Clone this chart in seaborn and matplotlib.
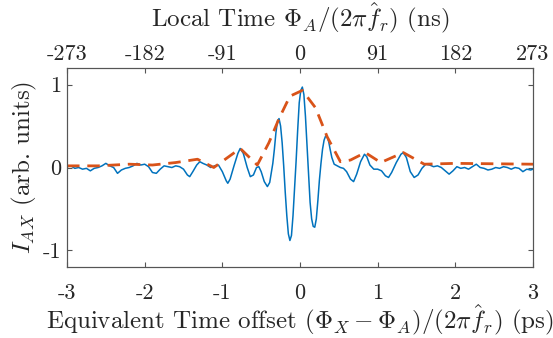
import numpy as np
import pandas as pd
import matplotlib
matplotlib.use("Agg")
import matplotlib.pyplot as plt
import seaborn as sns

offset_ps = [-3.00, -2.95, -2.90, -2.85, -2.80, -2.75, -2.70, -2.65, -2.60, -2.55,
             -2.50, -2.45, -2.40, -2.35, -2.30, -2.25, -2.20, -2.15, -2.10, -2.05,
             -2.00, -1.95, -1.90, -1.85, -1.80, -1.75, -1.70, -1.65, -1.60, -1.55,
             -1.50, -1.45, -1.42, -1.38, -1.33, -1.29, -1.25, -1.20, -1.15, -1.10,
             -1.05, -1.00, -0.95, -0.93, -0.90, -0.85, -0.80, -0.77, -0.73, -0.68,
             -0.64, -0.60, -0.56, -0.53, -0.50, -0.46, -0.42, -0.39, -0.35, -0.33,
             -0.31, -0.29, -0.27, -0.25, -0.23, -0.21, -0.19, -0.17, -0.15, -0.13,
             -0.11, -0.09, -0.07, -0.05, -0.03, -0.01, 0.01, 0.03, 0.05, 0.07,
             0.09, 0.11, 0.13, 0.15, 0.17, 0.19, 0.21, 0.23, 0.25, 0.27,
             0.29, 0.31, 0.33, 0.35, 0.37, 0.39, 0.41, 0.44, 0.48, 0.52,
             0.56, 0.60, 0.65, 0.69, 0.73, 0.78, 0.83, 0.86, 0.90, 0.95,
             1.00, 1.05, 1.10, 1.14, 1.18, 1.24, 1.30, 1.33, 1.37, 1.42,
             1.47, 1.52, 1.57, 1.62, 1.67, 1.72, 1.77, 1.82, 1.87, 1.92,
             1.97, 2.02, 2.07, 2.12, 2.17, 2.22, 2.27, 2.32, 2.37, 2.42,
             2.47, 2.52, 2.57, 2.62, 2.67, 2.72, 2.77, 2.82, 2.87, 2.92,
             2.97, 3.00]
signal = [0.01, 0.02, -0.01, 0.00, -0.02, -0.01, -0.04, -0.01, 0.00, 0.02,
          0.05, 0.02, 0.00, -0.07, -0.03, -0.01, 0.00, 0.02, 0.05, 0.03,
          0.04, 0.01, -0.06, -0.07, -0.02, 0.02, 0.01, 0.00, 0.02, 0.01,
          -0.02, -0.09, -0.11, -0.05, 0.03, 0.07, 0.05, 0.03, 0.00, 0.02,
          0.03, -0.05, -0.16, -0.19, -0.14, 0.02, 0.17, 0.23, 0.17, 0.00,
          -0.11, -0.09, 0.00, 0.01, -0.05, -0.17, -0.23, -0.18, 0.05, 0.22,
          0.42, 0.56, 0.59, 0.50, 0.30, 0.02, -0.30, -0.58, -0.80, -0.88,
          -0.82, -0.58, -0.25, 0.08, 0.45, 0.78, 0.93, 0.97, 0.88, 0.62,
          0.28, -0.08, -0.42, -0.62, -0.71, -0.72, -0.62, -0.40, -0.15, 0.05,
          0.22, 0.33, 0.38, 0.37, 0.31, 0.21, 0.12, 0.04, 0.02, 0.00,
          -0.01, -0.05, -0.14, -0.17, -0.08, 0.07, 0.16, 0.13, 0.03, -0.02,
          -0.02, -0.04, -0.10, -0.12, -0.06, 0.06, 0.16, 0.18, 0.12, -0.05,
          -0.12, -0.09, -0.01, 0.04, 0.03, 0.01, 0.02, 0.00, -0.04, -0.08,
          -0.04, 0.01, -0.01, 0.00, -0.02, 0.01, 0.04, 0.00, -0.01, -0.03,
          -0.02, 0.00, -0.01, 0.01, 0.00, -0.02, 0.00, -0.01, -0.05, -0.02,
          -0.03, -0.02]

# envelope (dashed)
env_ps = [-3.0, -2.6, -2.2, -1.9, -1.6, -1.32, -1.11, -0.77, -0.55, -0.4,
          -0.27, -0.13, 0.03, 0.2, 0.35, 0.52, 0.65, 0.84, 1.04, 1.33,
          1.6, 2.0, 3.0]
envelope = [0.02, 0.02, 0.04, 0.03, 0.06, 0.10, 0.00, 0.23, 0.03, 0.30,
            0.59, 0.86, 0.93, 0.72, 0.37, 0.07, 0.09, 0.18, 0.06, 0.18,
            0.04, 0.05, 0.04]

bottom_ticks = [-3, -2, -1, 0, 1, 2, 3]
bottom_labels = ["-3", "-2", "-1", "0", "1", "2", "3"]
top_labels = ["-273", "-182", "-91", "0", "91", "182", "273"]

sig_df = pd.DataFrame({"t": offset_ps, "I": signal})
env_df = pd.DataFrame({"t": env_ps, "I": envelope})

sns.set_style("ticks")
plt.rcParams["font.family"] = ["cmr10"]
plt.rcParams["mathtext.fontset"] = "cm"
plt.rcParams["axes.formatter.use_mathtext"] = True

fig = plt.figure(figsize=(5.53, 3.38), dpi=100)
ax = fig.add_axes([0.1212, 0.210, 0.8426, 0.5888])

sns.lineplot(data=sig_df, x="t", y="I", ax=ax, color="#0072BD", linewidth=1.1)
sns.lineplot(data=env_df, x="t", y="I", ax=ax, color="#D95319", linewidth=2.0,
             dashes=False, linestyle=(0, (4.5, 2.8)))

gray = "#555555"
ax.set_xlim(-3, 3)
ax.set_ylim(-1.2, 1.2)
ax.set_xticks(bottom_ticks)
ax.set_xticklabels(bottom_labels)
ax.set_yticks([-1, 0, 1])
ax.set_yticklabels(["-1", "0", "1"])
ax.tick_params(direction="in", right=True, length=3.5, labelsize=16, color=gray)
ax.tick_params(axis="x", pad=12)
ax.tick_params(axis="y", pad=4)
ax.set_xlabel(r"Equivalent Time offset $(\Phi_X-\Phi_A)/(2\pi\hat{f}_r)$ (ps)", fontsize=18, labelpad=0)
ax.set_ylabel(r"$I_{AX}$ (arb. units)", fontsize=18, labelpad=3)
for s in ax.spines.values():
    s.set_color(gray)

ax2 = ax.twiny()
ax2.set_xlim(ax.get_xlim())
ax2.set_xticks(bottom_ticks)
ax2.set_xticklabels(top_labels)
ax2.tick_params(direction="in", length=3.5, labelsize=16, color=gray, pad=3)
ax2.set_xlabel(r"Local Time $\Phi_A/(2\pi\hat{f}_r)$ (ns)", fontsize=18, labelpad=12)
for s in ax2.spines.values():
    s.set_color(gray)

fig.savefig("out.png", dpi=100)
